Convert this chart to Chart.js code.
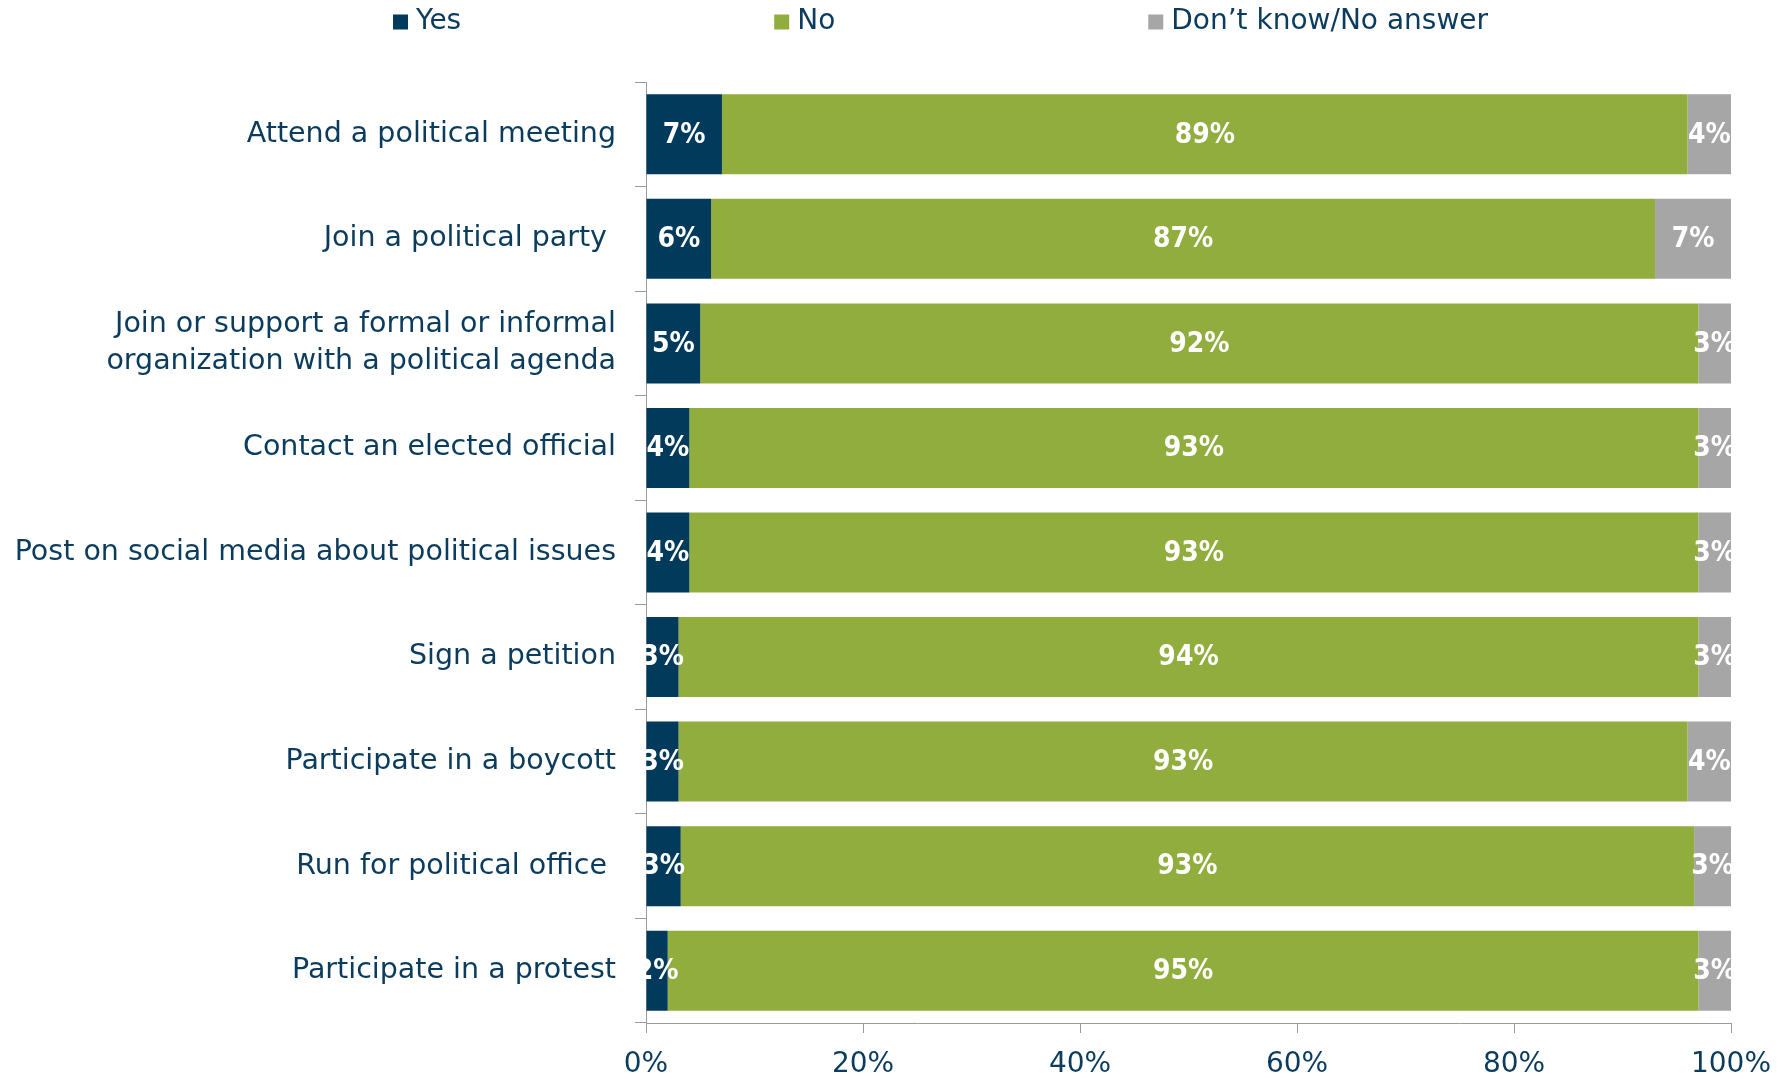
<!DOCTYPE html>
<html>
<head>
<meta charset="utf-8">
<script src="https://cdn.jsdelivr.net/npm/chart.js@4"></script>
<style>
  html, body { margin: 0; padding: 0; background: #fff; }
  #wrap { width: 1787px; height: 1079px; }
</style>
</head>
<body>
<div id="wrap"><canvas id="myBarChart" width="1787" height="1079"></canvas></div>
<script>
const categories = [
    'Attend a political meeting',
    'Join a political party ',
    ['Join or support a formal or informal', 'organization with a political agenda'],
    'Contact an elected official',
    'Post on social media about political issues',
    'Sign a petition',
    'Participate in a boycott',
    'Run for political office ',
    'Participate in a protest'
];
const yesValues = [7, 6, 5, 4, 4, 3, 3, 3.2, 2];
const noValues = [89, 87, 92, 93, 93, 94, 93, 93.4, 95];
const dkValues = [4, 7, 3, 3, 3, 3, 4, 3.4, 3];
const seriesNames = ['Yes', 'No', 'Don\u2019t know/No answer'];
const seriesColors = ['#023a5b', '#90ad3e', '#a6a6a6'];
const xTicks = [0, 20, 40, 60, 80, 100];

const NAVY = '#0b3c5d';
const FONT = '"DejaVu Sans", sans-serif';
const LABEL_FONT = '"DejaVu Sans Condensed", "DejaVu Sans", sans-serif';

//# legend drawn at the top, spaced like the original
const topLegend = {
    id: 'topLegend',
    afterDraw(chart) {
        const ctx = chart.ctx;
        let x = 393;
        const y = 22;
        const box = 15;
        ctx.save();
        ctx.font = '28px ' + FONT;
        ctx.textBaseline = 'middle';
        ctx.textAlign = 'left';
        chart.data.datasets.forEach(function (ds) {
            ctx.fillStyle = ds.backgroundColor;
            ctx.fillRect(x, y - box / 2, box, box);
            ctx.fillStyle = NAVY;
            ctx.fillText(ds.label, x + box + 8, y);
            x += box + 8 + ctx.measureText(ds.label).width + 313;
        });
        ctx.restore();
    }
};

//# value labels in the middle of each segment
const barLabels = {
    id: 'barLabels',
    afterDatasetsDraw(chart) {
        const ctx = chart.ctx;
        ctx.save();
        ctx.font = 'bold 28px ' + LABEL_FONT;
        ctx.fillStyle = '#ffffff';
        ctx.textAlign = 'center';
        ctx.textBaseline = 'middle';
        chart.data.datasets.forEach(function (ds, i) {
            const meta = chart.getDatasetMeta(i);
            meta.data.forEach(function (bar, j) {
                const p = bar.getProps(['x', 'y', 'base'], true);
                ctx.fillText(Math.round(ds.data[j]) + '%', (p.x + p.base) / 2, p.y + 1);
            });
        });
        ctx.restore();
    }
};

const ctx = document.getElementById('myBarChart').getContext('2d');
const valueSets = [yesValues, noValues, dkValues];

new Chart(ctx, {
    type: 'bar',
    data: {
        labels: categories,
        datasets: valueSets.map(function (vals, i) {
            return {
                label: seriesNames[i],
                data: vals,
                backgroundColor: seriesColors[i],
                borderWidth: 0,
                categoryPercentage: 1,
                barPercentage: 0.765
            };
        })
    },
    options: {
        indexAxis: 'y',
        responsive: false,
        animation: false,
        layout: { padding: { top: 82, right: 56, left: 0, bottom: 0 } },
        plugins: {
            legend: { display: false },
            tooltip: { enabled: false }
        },
        scales: {
            x: {
                stacked: true,
                min: 0,
                max: 100,
                afterBuildTicks: function (scale) {
                    scale.ticks = xTicks.map(function (v) { return { value: v }; });
                },
                afterFit: function (scale) { scale.height = 56; },
                border: { display: true, color: '#9a9a9a', width: 1 },
                grid: { drawOnChartArea: false, drawTicks: true, tickLength: 10, color: '#9a9a9a' },
                ticks: {
                    color: NAVY,
                    padding: 15,
                    maxRotation: 0,
                    font: { family: FONT, size: 28 },
                    callback: function (v) { return v + '%'; }
                }
            },
            y: {
                stacked: true,
                afterFit: function (scale) { scale.width = 646; },
                border: { display: true, color: '#9a9a9a', width: 1 },
                grid: { drawOnChartArea: false, drawTicks: true, tickLength: 11, color: '#9a9a9a', offset: true },
                ticks: {
                    color: NAVY,
                    padding: 19,
                    font: { family: FONT, size: 28.5, lineHeight: 1.3 }
                }
            }
        }
    },
    plugins: [topLegend, barLabels]
});
</script>
</body>
</html>
